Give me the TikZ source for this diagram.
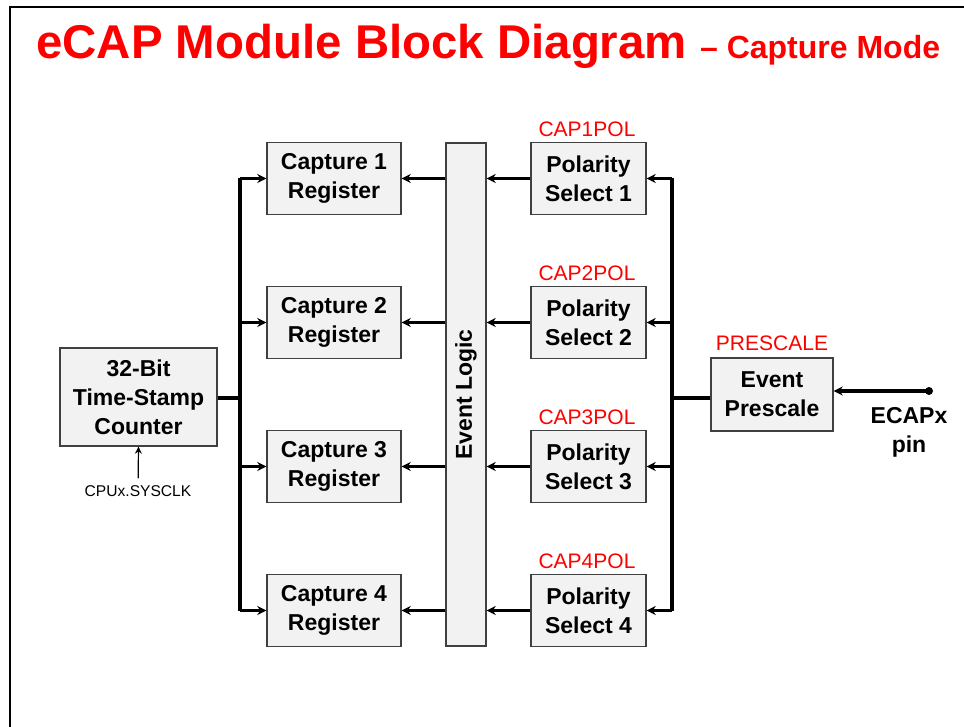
\documentclass[tikz,border=0pt]{standalone}
\usepackage{fontspec}
\setmainfont{Liberation Sans}
\usetikzlibrary{arrows.meta}

\definecolor{boxfill}{HTML}{F2F2F2}
\definecolor{boxline}{HTML}{404040}

\tikzset{
  blk/.style={draw=boxline, fill=boxfill, line width=0.7pt, align=center, inner sep=0pt,
    font=\bfseries\fontsize{11.5}{14.5}\selectfont},
  reglabel/.style={text=red, inner sep=0pt, font=\fontsize{10.5}{12}\selectfont},
  wire/.style={line width=1.6pt},
  >={Stealth[length=4.5pt,width=4.5pt]}
}

\begin{document}
\begin{tikzpicture}[x=0.5pt, y=-0.5pt]
        \useasboundingbox (0,0) rectangle (964,727);
        % frame
        \draw[line width=1.2pt] (10,735) -- (10,7) -- (970,7);

        % title
        \node[anchor=base west, inner sep=0pt, text=red, font=\bfseries\fontsize{23.7}{28}\selectfont] (title) at (36,59)
            {eCAP Module Block Diagram {\fontsize{16}{20}\selectfont– Capture Mode}};

        % counter
        \node[blk, minimum width=78.5pt, minimum height=49pt] (cnt) at (138.5,397) {32-Bit\\Time-Stamp\\Counter};
        \node[font=\fontsize{7.8}{9}\selectfont] (clk) at (138,491) {CPUx.SYSCLK};
        \draw[->, line width=0.6pt, >={Stealth[length=3.5pt,width=3.5pt]}] (clk) -- (cnt.south);

        % capture registers
        \node[blk, minimum width=67pt, minimum height=36pt] (cap1) at (334,178.5) {Capture 1\\Register};
        \node[blk, minimum width=67pt, minimum height=36pt] (cap2) at (334,322.5) {Capture 2\\Register};
        \node[blk, minimum width=67pt, minimum height=36pt] (cap3) at (334,466.5) {Capture 3\\Register};
        \node[blk, minimum width=67pt, minimum height=36pt] (cap4) at (334,610.5) {Capture 4\\Register};

        % event logic
        \node[blk, rotate=90, minimum width=251.5pt, minimum height=20pt] (evt) at (466,394.5) {Event Logic};

        % polarity select
        \node[blk, minimum width=57.5pt, minimum height=36pt] (pol1) at (588.5,178.5) {Polarity\\Select 1};
        \node[blk, minimum width=57.5pt, minimum height=36pt] (pol2) at (588.5,322.5) {Polarity\\Select 2};
        \node[blk, minimum width=57.5pt, minimum height=36pt] (pol3) at (588.5,466.5) {Polarity\\Select 3};
        \node[blk, minimum width=57.5pt, minimum height=36pt] (pol4) at (588.5,610.5) {Polarity\\Select 4};
        \node[reglabel] (pol1lbl) at (587,129) {CAP1POL};
        \node[reglabel] (pol2lbl) at (587,273) {CAP2POL};
        \node[reglabel] (pol3lbl) at (587,417) {CAP3POL};
        \node[reglabel] (pol4lbl) at (587,561) {CAP4POL};

        % prescaler
        \node[blk, minimum width=61pt, minimum height=36.5pt] (pre) at (772,394.5) {Event\\Prescale};
        \node[reglabel] (prelbl) at (772,343) {PRESCALE};

        % pin
        \coordinate (pin) at (929,391);
        \node[align=center, font=\bfseries\fontsize{11.5}{14.5}\selectfont] (pinlbl) at (909,432) {ECAPx\\pin};

        % left bus
        \coordinate (busL) at (240,398);
        \draw[wire] (cnt.east |- busL) -- (busL);
        \draw[wire] (busL |- cap1.west) -- (busL |- cap4.west);
        \foreach \i in {1,...,4} {
            \draw[wire, ->] (busL |- cap\i.west) -- (cap\i.west);
            \draw[wire, ->] (cap\i.east -| evt.north) -- (cap\i.east);
            \draw[wire, ->] (pol\i.west) -- (pol\i.west -| evt.south);
        }

        % right bus
        \coordinate (busR) at (672,398);
        \draw[wire] (busR) -- (pre.west |- busR);
        \draw[wire] (busR |- pol1.east) -- (busR |- pol4.east);
        \foreach \i in {1,...,4}
            \draw[wire, ->] (busR |- pol\i.east) -- (pol\i.east);

        % pin input
        \fill (pin) circle (2pt);
        \draw[wire, ->] (pin) -- (pre.east |- pin);
\end{tikzpicture}
\end{document}
